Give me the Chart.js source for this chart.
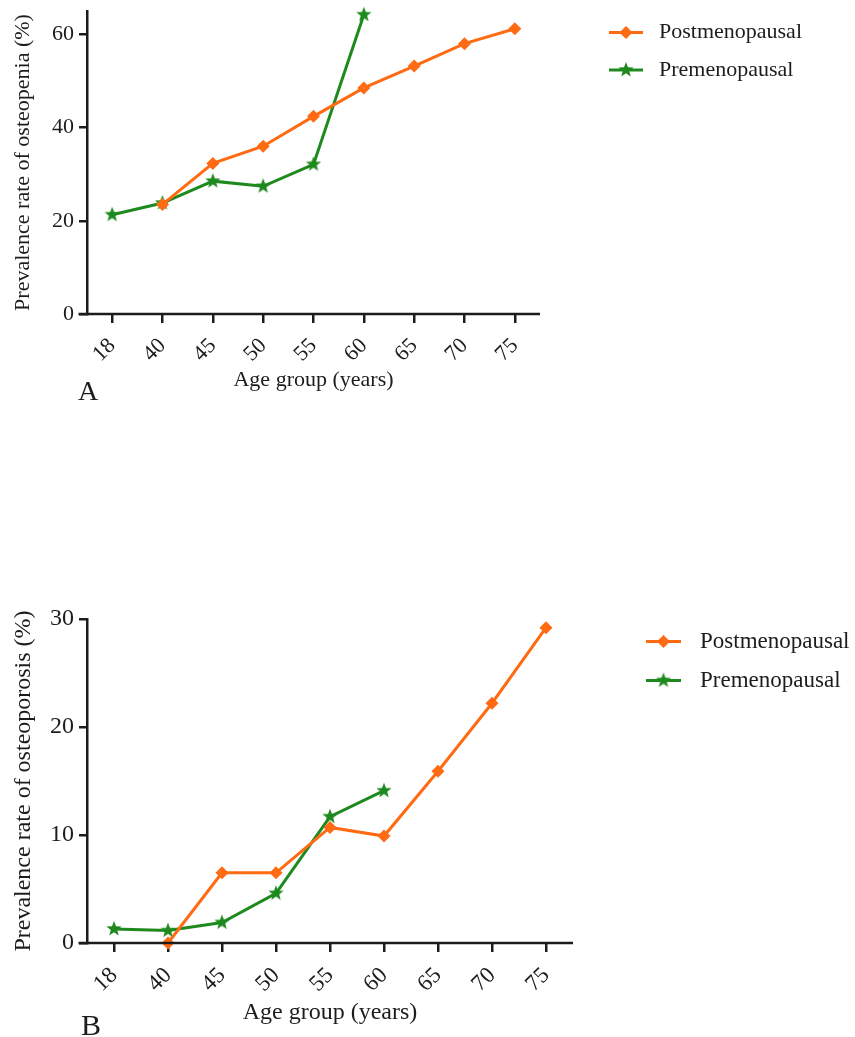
<!DOCTYPE html>
<html>
<head>
<meta charset="utf-8">
<script src="https://cdn.jsdelivr.net/npm/chart.js@4.4.1/dist/chart.umd.min.js"></script>
<style>
  body { margin: 0; background: #fff; }
  .wrap { position: relative; width: 855px; height: 1037px; }
  canvas { position: absolute; left: 0; }
</style>
</head>
<body>
<div class="wrap">
  <canvas id="chartA" width="855" height="420" style="top:0;width:855px;height:420px"></canvas>
  <canvas id="chartB" width="855" height="437" style="top:600px;width:855px;height:437px"></canvas>
</div>
<script>
// data
const ageGroups = ['18', '40', '45', '50', '55', '60', '65', '70', '75'];
const osteopeniaPost = [null, 23.5, 32.3, 36.0, 42.4, 48.5, 53.2, 58.0, 61.2];
const osteopeniaPre = [21.3, 23.8, 28.5, 27.4, 32.1, 64.2, null, null, null];
const osteoporosisPost = [null, 0, 6.5, 6.5, 10.7, 9.9, 15.9, 22.2, 29.2];
const osteoporosisPre = [1.3, 1.15, 1.9, 4.6, 11.7, 14.1, null, null, null];
const osteopeniaTicks = [0, 20, 40, 60];
const osteoporosisTicks = [0, 10, 20, 30];
const seriesNames = ['Postmenopausal', 'Premenopausal'];

const ORANGE = '#ff6a12';
const GREEN = '#1e8a1e';
const INK = '#1c1c1c';
const SERIF = '"Liberation Serif", "DejaVu Serif", serif';

function makeStar(color, r) {
    var c = document.createElement('canvas');
    c.width = c.height = Math.ceil(2 * r + 2);
    var g = c.getContext('2d');
    g.fillStyle = color;
    g.beginPath();
    for (var i = 0; i < 10; i++) {
        var rad = i % 2 ? r * 0.42 : r;
        var a = -Math.PI / 2 + i * Math.PI / 5;
        var x = c.width / 2 + rad * Math.cos(a);
        var y = c.height / 2 + rad * Math.sin(a);
        if (i === 0) g.moveTo(x, y); else g.lineTo(x, y);
    }
    g.closePath();
    g.fill();
    return c;
}
const starImg = makeStar(GREEN, 8);

// legend, panel letter and the long x axis line (Prism style)
const panelDecor = {
    id: 'panelDecor',
    afterDraw(chart, args, opts) {
        const ctx = chart.ctx;
        const area = chart.chartArea;
        ctx.save();
        // x axis line, sticks out a little left of the y axis
        ctx.strokeStyle = INK;
        ctx.lineWidth = 2.5;
        ctx.beginPath();
        ctx.moveTo(area.left - opts.axisExt, area.bottom);
        ctx.lineTo(area.right, area.bottom);
        ctx.stroke();

        // legend
        ctx.font = opts.legendFont + 'px ' + SERIF;
        ctx.textBaseline = 'middle';
        [ORANGE, GREEN].forEach(function(col, i) {
            const y = opts.legendY[i];
            ctx.strokeStyle = col;
            ctx.lineWidth = 3;
            ctx.beginPath();
            ctx.moveTo(opts.legendX, y);
            ctx.lineTo(opts.legendX + opts.legendLen, y);
            ctx.stroke();
            const cx = opts.legendX + opts.legendLen / 2;
            if (i === 0) {
                ctx.fillStyle = col;
                ctx.beginPath();
                ctx.moveTo(cx, y - 6.5);
                ctx.lineTo(cx + 6.5, y);
                ctx.lineTo(cx, y + 6.5);
                ctx.lineTo(cx - 6.5, y);
                ctx.closePath();
                ctx.fill();
            } else {
                ctx.drawImage(starImg, cx - starImg.width / 2, y - starImg.height / 2);
            }
            ctx.fillStyle = INK;
            ctx.fillText(seriesNames[i], opts.textX, y);
        });

        // panel letter
        ctx.fillStyle = INK;
        ctx.font = opts.letterFont + 'px ' + SERIF;
        ctx.textBaseline = 'alphabetic';
        ctx.fillText(opts.letter, opts.letterX, opts.letterY);
        ctx.restore();
    }
};

function buildChart(id, post, pre, yTicks, cfg) {
    return new Chart(document.getElementById(id), {
        type: 'line',
        data: {
            labels: ageGroups,
            datasets: [
                {
                    label: seriesNames[0],
                    data: post,
                    borderColor: ORANGE,
                    backgroundColor: ORANGE,
                    borderWidth: 3,
                    pointStyle: 'rectRot',
                    pointRadius: 6.5,
                    pointBorderWidth: 0,
                    clip: false
                },
                {
                    label: seriesNames[1],
                    data: pre,
                    borderColor: GREEN,
                    backgroundColor: GREEN,
                    borderWidth: 3,
                    pointStyle: starImg,
                    clip: false
                }
            ]
        },
        options: {
            responsive: false,
            animation: false,
            layout: { padding: cfg.padding },
            plugins: {
                legend: { display: false },
                tooltip: { enabled: false },
                panelDecor: cfg.decor
            },
            scales: {
                x: {
                    offset: true,
                    afterFit: function(scale) {
                        scale.height = cfg.xHeight;
                        scale.paddingLeft = 0;
                        scale.paddingRight = 0;
                    },
                    grid: { display: true, drawOnChartArea: false, offset: false, tickLength: 9, color: INK, lineWidth: 2.5 },
                    border: { display: false },
                    ticks: {
                        color: INK,
                        font: { family: SERIF, size: cfg.xTickFont },
                        maxRotation: 45,
                        minRotation: 45,
                        padding: 10
                    },
                    title: {
                        display: true,
                        text: 'Age group (years)',
                        color: INK,
                        font: { family: SERIF, size: cfg.titleFont },
                        padding: { top: 0, bottom: 0 }
                    }
                },
                y: {
                    min: 0,
                    max: cfg.yMax,
                    afterFit: function(scale) {
                        scale.width = cfg.yWidth;
                        scale.paddingTop = 0;
                        scale.paddingBottom = 0;
                    },
                    afterBuildTicks: function(scale) {
                        scale.ticks = yTicks.map(function(v) { return { value: v }; });
                    },
                    grid: { display: true, drawOnChartArea: false, tickLength: 8, color: INK, lineWidth: 2.5 },
                    border: { display: true, color: INK, width: 2.5 },
                    ticks: {
                        color: INK,
                        font: { family: SERIF, size: cfg.yTickFont },
                        padding: 5
                    },
                    title: {
                        display: true,
                        text: cfg.yTitle,
                        color: INK,
                        font: { family: SERIF, size: cfg.titleFont },
                        padding: { top: cfg.yTitlePad, bottom: 0 }
                    }
                }
            }
        },
        plugins: [panelDecor]
    });
}

buildChart('chartA', osteopeniaPost, osteopeniaPre, osteopeniaTicks, {
    padding: { left: 0, right: 315, top: 11, bottom: 27 },
    xHeight: 79,
    yWidth: 87,
    yMax: 65,
    xTickFont: 22,
    yTickFont: 22,
    titleFont: 22,
    yTitlePad: 10,
    yTitle: 'Prevalence rate of osteopenia (%)',
    decor: {
        axisExt: 8.5,
        legendX: 609, legendLen: 34, legendY: [32.5, 70], textX: 659, legendFont: 22,
        letter: 'A', letterX: 78, letterY: 400, letterFont: 28
    }
});

buildChart('chartB', osteoporosisPost, osteoporosisPre, osteoporosisTicks, {
    padding: { left: 0, right: 282, top: 19, bottom: 10 },
    xHeight: 84,
    yWidth: 87,
    yMax: 30,
    xTickFont: 23,
    yTickFont: 24,
    titleFont: 24,
    yTitlePad: 9,
    yTitle: 'Prevalence rate of osteoporosis (%)',
    decor: {
        axisExt: 8.5,
        legendX: 646, legendLen: 35, legendY: [41.5, 80.5], textX: 700, legendFont: 23,
        letter: 'B', letterX: 81, letterY: 435, letterFont: 30
    }
});
</script>
</body>
</html>
